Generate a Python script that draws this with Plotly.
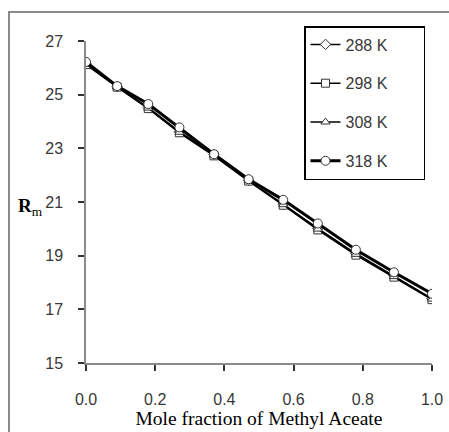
import plotly.graph_objects as go

x_frac = [0.0, 0.09, 0.18, 0.27, 0.37, 0.47, 0.57, 0.67, 0.78, 0.89, 1.0]
rm_288 = [26.15, 25.30, 24.52, 23.62, 22.76, 21.80, 20.92, 20.02, 19.08, 18.25, 17.40]
rm_298 = [26.12, 25.28, 24.48, 23.58, 22.72, 21.78, 20.88, 19.96, 19.02, 18.20, 17.36]
rm_308 = [26.14, 25.29, 24.50, 23.60, 22.74, 21.79, 20.90, 19.99, 19.05, 18.22, 17.38]
rm_318 = [26.22, 25.32, 24.65, 23.78, 22.78, 21.85, 21.08, 20.20, 19.22, 18.38, 17.58]
series_names = ["288 K", "298 K", "308 K", "318 K"]
x_ticks = [0.0, 0.2, 0.4, 0.6, 0.8, 1.0]
y_ticks = [15, 17, 19, 21, 23, 25, 27]

fig = go.Figure()
specs = [
    (rm_288, "diamond", 8, 1.5),
    (rm_298, "square", 8, 1.5),
    (rm_308, "triangle-up", 8, 1.5),
    (rm_318, "circle", 9, 3),
]
pad = "\u00a0" * 7
for name, (vals, sym, size, lw) in zip(series_names, specs):
    fig.add_trace(go.Scatter(
        x=x_frac, y=vals, name=name + pad, mode="lines+markers",
        legendgroup=name,
        line=dict(color="black", width=lw),
        marker=dict(symbol=sym, size=size, color="white",
                    line=dict(color="#333333", width=1)),
    ))

W, H = 449, 432
l, r, t, b = 86, 17, 41, 69
pw, ph = W - l - r, H - t - b
X0, Y0 = l, H - b  # pixel of plot-area bottom-left

def px_x(p):
    return (p - X0) / pw

def px_y(p):
    return (Y0 - p) / ph

fig.add_shape(type="rect", xref="paper", yref="paper",
              x0=px_x(9), x1=px_x(470), y0=px_y(470), y1=px_y(12),
              line=dict(color="#8a8a8a", width=2), layer="below")

fig.add_annotation(text="<b>R</b><sub>m</sub>", xref="paper", yref="paper",
                   x=px_x(16), y=px_y(207), xanchor="left", showarrow=False,
                   font=dict(family="Liberation Serif", size=19, color="black"))

axis_font = dict(family="Liberation Sans", size=16, color="#383838")
fig.update_layout(
    width=W, height=H,
    margin=dict(l=l, r=r, t=t, b=b),
    paper_bgcolor="white", plot_bgcolor="white",
    showlegend=True,
    legend=dict(x=px_x(304), y=px_y(26), xanchor="left", yanchor="top",
                bordercolor="black", borderwidth=1.5, bgcolor="white",
                font=dict(family="Liberation Sans", size=16, color="#383838"),
                tracegroupgap=15),
    xaxis=dict(range=[0, 1.0], tickvals=x_ticks, ticktext=[f"{v:.1f}" for v in x_ticks],
               automargin=False,
               showgrid=False, zeroline=False, showline=True, linecolor="#8a8a8a", linewidth=1.5,
               ticks="outside", ticklen=6, tickcolor="#333333", tickwidth=1.5,
               tickfont=axis_font, ticklabelstandoff=15,
               title=dict(text="Mole fraction of Methyl Aceate",
                          font=dict(family="Liberation Serif", size=19.5, color="black"),
                          standoff=0)),
    yaxis=dict(range=[15, 27], tickvals=y_ticks, automargin=False,
               showgrid=False, zeroline=False, showline=True, linecolor="#8a8a8a", linewidth=1.5,
               ticks="outside", ticklen=6, tickcolor="#333333", tickwidth=1.5,
               tickfont=axis_font, ticklabelstandoff=12),
)

fig.write_html("out.html",
               config={"displayModeBar": False},
               post_script="document.body.style.margin='0';document.body.style.overflow='hidden';")
